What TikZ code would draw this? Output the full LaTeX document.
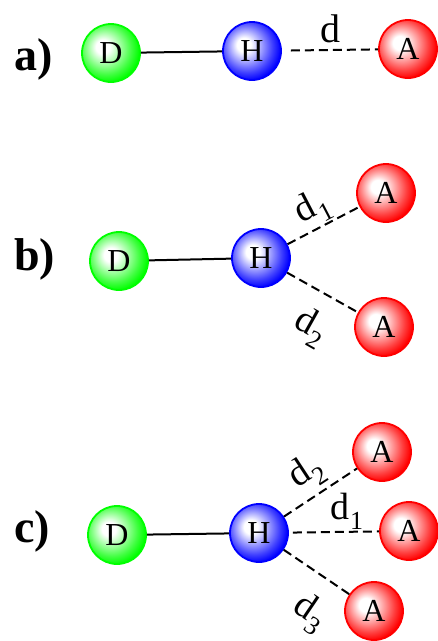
\documentclass[tikz,border=0pt]{standalone}
\usepackage{fontspec}
\setmainfont{Liberation Serif}
\usepackage{tikz}

\makeatletter
\pgfdeclareradialshading[tikz@ball]{atomball}{\pgfqpoint{-8bp}{6bp}}{%
  color(0bp)=(white); color(6bp)=(white); color(22bp)=(tikz@ball!75!white);
  color(28bp)=(tikz@ball); color(50bp)=(tikz@ball)}
\makeatother

\newcommand{\dlab}[1]{d\kern1pt\raisebox{-10pt}{\fontsize{26}{26}\selectfont #1}}

\begin{document}
\begin{tikzpicture}[x=1pt,y=-1pt,
    atom node/.style={circle,draw=#1,line width=1.8pt,ball color=#1,shading=atomball,
      minimum size=58pt,inner sep=0pt,font=\fontsize{32}{32}\selectfont},
    part label/.style={anchor=base west,inner sep=0pt,font=\fontsize{46}{46}\selectfont\bfseries},
    bond/.style={line width=2pt},
    hbond/.style={line width=2pt,dash pattern=on 9pt off 5pt},
    dist/.style={inner sep=1pt,font=\fontsize{38}{38}\selectfont}]
    \useasboundingbox (0,0) rectangle (438,641);

    % a)
    \node[part label] (la) at (14,70) {a)};
    \node[atom node=green] (Da) at (111,53) {D};
    \node[atom node=blue] (Ha) at (252,51) {H};
    \node[atom node=red] (Aa) at (408,49) {A};
    \draw[bond] (Da) -- (Ha);
    \draw[hbond,shorten <=9pt] (Ha) -- node[dist,above=5pt,font=\fontsize{40}{40}\selectfont] {d} (Aa);

    % b)
    \node[part label] (lb) at (14,270) {b)};
    \node[atom node=green] (Db) at (119,261) {D};
    \node[atom node=blue] (Hb) at (261,258) {H};
    \node[atom node=red] (Ab1) at (386,193) {A};
    \node[atom node=red] (Ab2) at (384,327) {A};
    \draw[bond] (Db) -- (Hb);
    \draw[hbond] (Hb) -- node[dist,sloped,above=0pt,pos=0.48] {\dlab{1}} (Ab1);
    \draw[hbond] (Hb) -- node[dist,sloped,below=16pt,pos=0.58] {\dlab{2}} (Ab2);

    % c)
    \node[part label] (lc) at (14,542) {c)};
    \node[atom node=green] (Dc) at (117,535) {D};
    \node[atom node=blue] (Hc) at (259,533) {H};
    \node[atom node=red] (Ac1) at (382,452) {A};
    \node[atom node=red] (Ac2) at (409,531) {A};
    \node[atom node=red] (Ac3) at (374,611) {A};
    \draw[bond] (Dc) -- (Hc);
    \draw[hbond] (Hc) -- node[dist,sloped,above=4pt,pos=0.49] {\dlab{2}} (Ac1);
    \draw[hbond,shorten <=4pt] (Hc) -- node[dist,above=0pt,pos=0.64] {\dlab{1}} (Ac2);
    \draw[hbond] (Hc) -- node[dist,sloped,below=17pt,pos=0.72] {\dlab{3}} (Ac3);
\end{tikzpicture}
\end{document}
